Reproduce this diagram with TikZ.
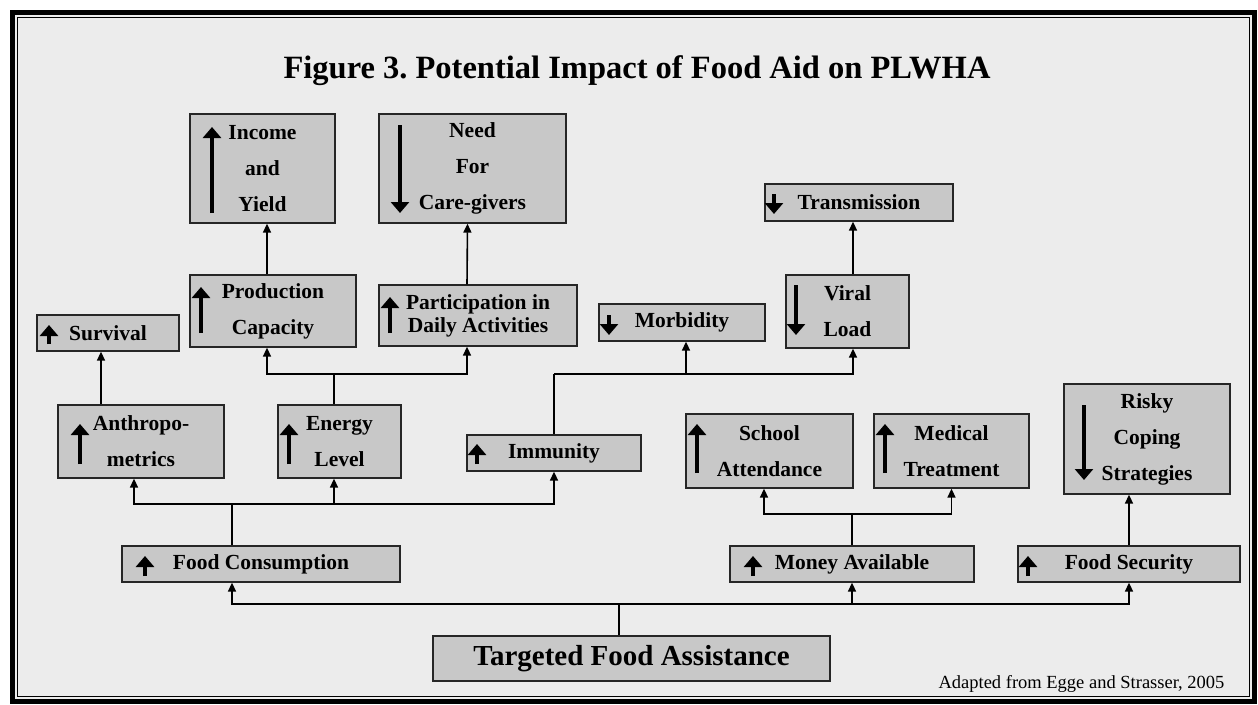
\documentclass[tikz,border=0pt]{standalone}
\usepackage{fontspec}
\setmainfont{Liberation Serif}
\usetikzlibrary{arrows.meta}
\frenchspacing
\definecolor{paper}{HTML}{ECECEC}
\definecolor{boxgray}{HTML}{C8C8C8}
\newcommand{\boxfont}{\fontsize{21.5}{36}\selectfont\bfseries}
\newcommand{\tightfont}{\fontsize{21.5}{23}\selectfont\bfseries}
\tikzset{
  box/.style={draw=black!85, line width=1.3pt, fill=boxgray, inner sep=0pt,
    align=center, font=\boxfont},
  link/.style={line width=1.6pt},
  conn/.style={link, -{Triangle[width=8pt,length=9pt]}},
  bigtip/.style={line width=4.5pt, -{Triangle[width=18pt,length=11pt]}}
}

\begin{document}
\begin{tikzpicture}[x=1pt,y=-1pt]
  \useasboundingbox[fill=white] (0,0) rectangle (1258,704);
  % frame
  \fill[paper] (12.5,12.5) rectangle (1254.5,701);
  \draw[line width=5pt] (12.5,12.5) rectangle (1254.5,701);
  \draw[line width=1pt] (17.5,17.5) rectangle (1249.5,696);

  \node[font=\fontsize{32.5}{36}\selectfont\bfseries, anchor=base] (title) at (637,78)
    {Figure 3. Potential Impact of Food Aid on PLWHA};

  % top row
  \node[box, minimum width=145pt, minimum height=109pt] (inc) at (262.5,168.5) {Income\\and\\Yield};
  \node[box, minimum width=187pt, minimum height=109pt] (need) at (472.5,168.5) {Need\\For\\Care-givers};
  \node[box, minimum width=188pt, minimum height=37pt] (trans) at (859,202.5) {Transmission};
  % second row
  \node[box, minimum width=142pt, minimum height=36pt] (surv) at (108,333) {Survival};
  \node[box, minimum width=166pt, minimum height=72pt] (prod) at (273,311) {Production\\Capacity};
  \node[box, font=\tightfont, minimum width=198pt, minimum height=61pt] (part) at (478,315.5) {Participation in\\Daily Activities};
  \node[box, minimum width=166pt, minimum height=37pt] (morb) at (682,322.5) {Morbidity};
  \node[box, minimum width=123pt, minimum height=73pt] (viral) at (847.5,311.5) {Viral\\Load};
  % third row
  \node[box, minimum width=166pt, minimum height=73pt] (anth) at (141,441.5) {Anthropo-\\metrics};
  \node[box, minimum width=123pt, minimum height=73pt] (energy) at (339.5,441.5) {Energy\\Level};
  \node[box, minimum width=174pt, minimum height=36pt] (imm) at (554,453) {Immunity};
  \node[box, minimum width=167pt, minimum height=74pt] (school) at (769.5,451) {School\\Attendance};
  \node[box, minimum width=155pt, minimum height=74pt] (med) at (951.5,451) {Medical\\Treatment};
  \node[box, minimum width=166pt, minimum height=110pt] (risky) at (1147,439) {Risky\\Coping\\Strategies};
  % fourth row
  \node[box, minimum width=278pt, minimum height=36pt] (fc) at (261,564) {Food Consumption};
  \node[box, minimum width=244pt, minimum height=36pt] (ma) at (852,564) {Money Available};
  \node[box, minimum width=222pt, minimum height=36pt] (fs) at (1129,564) {Food Security};
  % base
  \node[box, font=\fontsize{29}{32}\selectfont\bfseries, minimum width=397pt, minimum height=45pt] (tfa) at (631.5,658.5) {Targeted Food Assistance};

  \node[font=\fontsize{18.5}{20}\selectfont, anchor=base east] (credit) at (1228,688)
    {Adapted from Egge and Strasser, 2005};

  % up/down marks inside the boxes
  \foreach \x/\a/\b in {212/213/127, 400/125/213, 774/194/214, 49/344/325,
      201/333/287, 390/333/297, 609/315/335, 796/285/335, 80/464/424,
      289/464/424, 477/464/444, 697/473/424, 885/473/424, 1084/405/480,
      145/576/556, 753/576/556, 1028/576/556}
    \draw[bigtip] (\x,\a) -- (\x,\b);

  % junctions
  \coordinate (j0) at (619,604);
  \coordinate (j1) at (232,504);
  \coordinate (j2) at (334,374);
  \coordinate (j3) at (554,374);
  \coordinate (j4) at (852,514);

  % connectors
  \draw[link] ([xshift=-12.5pt]tfa.north) -- (j0);
  \draw[conn] (j0) -| ([xshift=-29pt]fc.south);
  \draw[conn] (j0) -| (ma.south);
  \draw[conn] (j0) -| (fs.south);

  \draw[link] ([xshift=-29pt]fc.north) -- (j1);
  \draw[conn] (j1) -| ([xshift=-7pt]anth.south);
  \draw[conn] (j1) -| ([xshift=-5.5pt]energy.south);
  \draw[conn] (j1) -| (imm.south);

  \draw[conn] ([xshift=-40pt]anth.north) -- ([xshift=-7pt]surv.south);
  \draw[link] ([xshift=-5.5pt]energy.north) -- (j2);
  \draw[conn] (j2) -| ([xshift=-6pt]prod.south);
  \draw[conn] (j2) -| ([xshift=-11pt]part.south);
  \draw[conn] ([xshift=-6pt]prod.north) -- ([xshift=4.5pt]inc.south);
  \draw[conn] ([xshift=-11pt]part.north) -- ([xshift=-5pt]need.south);

  \draw[link] (imm.north) -- (j3);
  \draw[conn] (j3) -| ([xshift=4pt]morb.south);
  \draw[conn] (j3) -| ([xshift=5.5pt]viral.south);
  \draw[conn] ([xshift=5.5pt]viral.north) -- ([xshift=-6pt]trans.south);

  \draw[link] (ma.north) -- (j4);
  \draw[conn] (j4) -| ([xshift=-5.5pt]school.south);
  \draw[conn] (j4) -| (med.south);
  \draw[conn] (fs.north) -- ([xshift=-18pt]risky.south);
\end{tikzpicture}
\end{document}
